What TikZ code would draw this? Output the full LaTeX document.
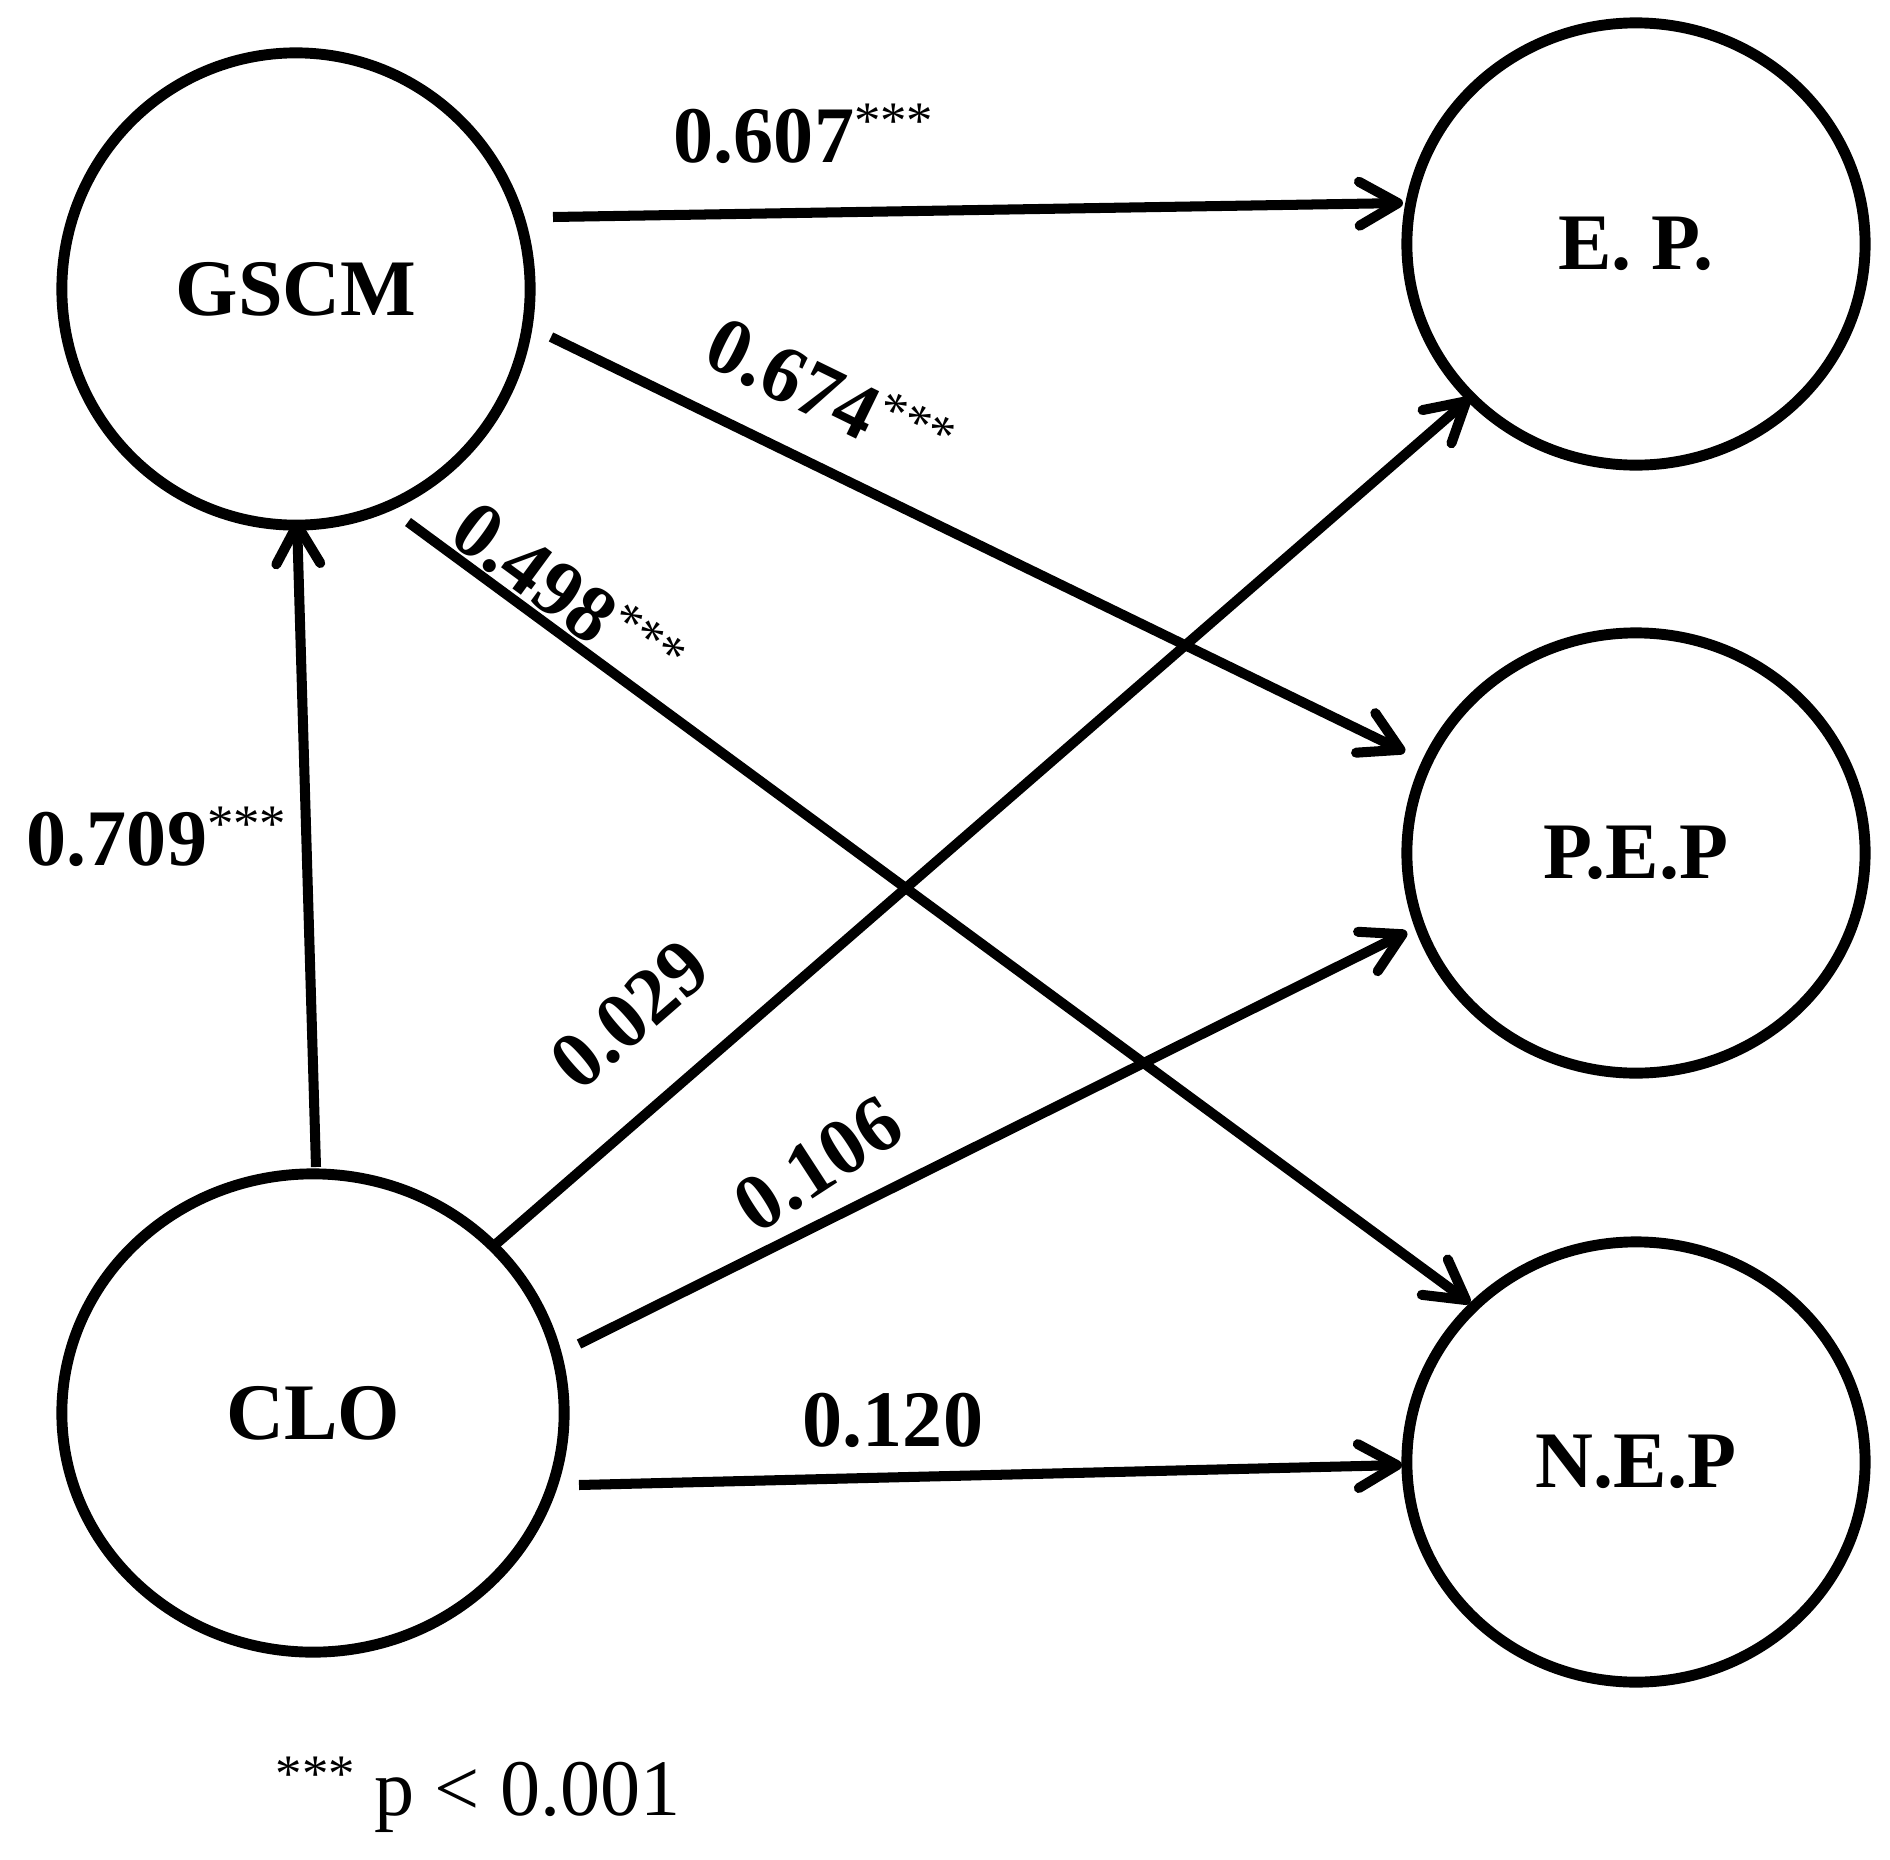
\documentclass[tikz,border=0pt]{standalone}
\usepackage{fontspec}
\setmainfont{Liberation Serif}
\usetikzlibrary{arrows.meta,shapes.geometric}
\newcommand\mystars{\raisebox{6.8pt}{\fontsize{15}{15}\selectfont\mdseries ***}}
\begin{document}
\begin{tikzpicture}[x=0.01cm,y=-0.01cm,
  lat/.style={draw, ellipse, line width=3.1pt, inner sep=0pt,
    font=\fontsize{22.8}{27}\selectfont\bfseries},
  arr/.style={line width=2.85pt, -{Straight Barb[length=11pt,width=12.5pt,round]}},
  coef/.style={font=\fontsize{22.8}{27}\selectfont\bfseries, inner sep=0pt},
  note/.style={font=\fontsize{22.8}{27}\selectfont, inner sep=0pt}]
\useasboundingbox (0,0) rectangle (1890,1860);

\node[lat, minimum width=4.68cm, minimum height=4.72cm] (GSCM) at (296,289) {GSCM};
\node[lat, minimum width=4.58cm, minimum height=4.42cm] (EP) at (1636,244) {E. P.};
\node[lat, minimum width=4.58cm, minimum height=4.40cm] (PEP) at (1636,853) {P.E.P};
\node[lat, minimum width=4.58cm, minimum height=4.40cm] (NEP) at (1636,1462) {N.E.P};
\node[lat, minimum width=5.02cm, minimum height=4.78cm] (CLO) at (313,1413) {CLO};

\draw[arr] ([shift={(257,-72)}]GSCM.center) -- ([shift={(-233,-41)}]EP.center);
\draw[arr] ([shift={(255,48)}]GSCM.center) -- ([shift={(-231,-101)}]PEP.center);
\draw[arr] ([shift={(112,233)}]GSCM.center) -- ([shift={(-166,-159)}]NEP.center);
\draw[arr] ([shift={(3,-246)}]CLO.center) -- ([shift={(1,231)}]GSCM.center);
\draw[arr] ([shift={(183,-169)}]CLO.center) -- ([shift={(-166,154)}]EP.center);
\draw[arr] ([shift={(266,-69)}]CLO.center) -- ([shift={(-229,79)}]PEP.center);
\draw[arr] ([shift={(266,72)}]CLO.center) -- ([shift={(-234,3)}]NEP.center);

\node[coef, anchor=base west] (l607) at (673,162) {0.607\mystars};
\node[coef, anchor=base west] (l709) at (26,865) {0.709\mystars};
\node[coef, anchor=base west] (l120) at (802,1446) {0.120};
\node[coef, rotate=-26] (l674) at (830,394) {0.674\mystars};
\node[coef, rotate=-36.3] (l498) at (568,594) {0.498\mystars};
\node[coef, rotate=41] (l029) at (630,1015) {0.029};
\node[coef, rotate=33] (l106) at (818,1164) {0.106};

\node[note, anchor=base west] (pnote) at (275,1815) {\mystars\ p < 0.001};
\end{tikzpicture}
\end{document}
